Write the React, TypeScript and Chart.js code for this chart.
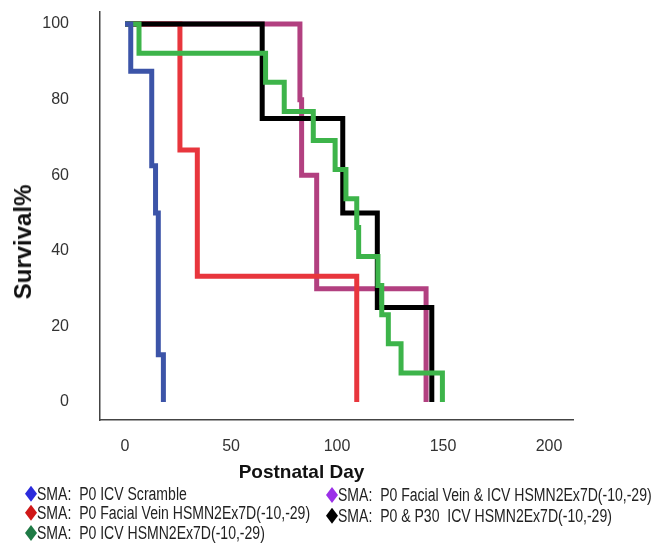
import React, { useEffect, useRef } from 'react';
import { Chart, registerables } from 'chart.js';

Chart.register(...registerables);

const xTickValues = [0, 50, 100, 150, 200];
const yTickValues = [0, 20, 40, 60, 80, 100];

const seriesLabels = [
  'SMA:  P0 ICV Scramble',
  'SMA:  P0 Facial Vein HSMN2Ex7D(-10,-29)',
  'SMA:  P0 ICV HSMN2Ex7D(-10,-29)',
  'SMA:  P0 Facial Vein & ICV HSMN2Ex7D(-10,-29)',
  'SMA:  P0 & P30  ICV HSMN2Ex7D(-10,-29)',
];

const scrambleDays = [0, 2.7, 12.6, 14.4, 15.7, 18.1];
const scrambleSurvival = [100, 87.5, 62.5, 50, 12.5, 0];

const facialDays = [0, 25.9, 34.1, 109.3];
const facialSurvival = [100, 66.7, 33.3, 0];

const icvDays = [0, 6.6, 66.3, 75.1, 88.8, 99.1, 104.2, 109.3, 110.2, 119.3, 121.1, 124.2, 130.2, 149.7];
const icvSurvival = [100, 92.3, 84.6, 76.9, 69.2, 61.5, 53.8, 46.2, 38.5, 30.8, 23.1, 15.4, 7.7, 0];

const facialIcvDays = [0, 82.5, 83.3, 90.4, 142];
const facialIcvSurvival = [100, 80, 60, 30, 0];

const p0p30Days = [0, 64.7, 102.7, 119, 144.7];
const p0p30Survival = [100, 75, 50, 25, 0];

const lineColors = ['#3c54a8', '#e8363d', '#3db44a', '#b24080', '#000000'];
const markerColors = ['#2b2bdc', '#d01818', '#1f7a45', '#9b30e8', '#000000'];
const drawOrder = [0, 3, 1, 4, 2];

const FONT = '"Liberation Sans", Arial, Helvetica, sans-serif';

export default function App() {
  const canvasRef = useRef<HTMLCanvasElement | null>(null);

  useEffect(() => {
    const canvas = canvasRef.current;
    if (!canvas) return;
    const days = [scrambleDays, facialDays, icvDays, facialIcvDays, p0p30Days];
    const surv = [scrambleSurvival, facialSurvival, icvSurvival, facialIcvSurvival, p0p30Survival];
    const chart = new Chart(canvas, {
      type: 'line',
      data: {
        datasets: days.map((d, i) => ({
          label: seriesLabels[i],
          data: d.map((x, j) => ({ x, y: surv[i][j] })),
          borderColor: lineColors[i],
          backgroundColor: lineColors[i],
          borderWidth: 5,
          stepped: 'before' as const,
          pointRadius: 0,
          fill: false,
          order: drawOrder[i],
          borderCapStyle: 'butt' as const,
          borderJoinStyle: 'miter' as const,
        })),
      },
      options: {
        animation: false,
        responsive: false,
        maintainAspectRatio: false,
        layout: { padding: { top: 12, right: 89, bottom: 0, left: 0 } },
        plugins: {
          legend: { display: false },
          tooltip: { enabled: false },
        },
        scales: {
          x: {
            type: 'linear',
            min: -11.8,
            max: 211.3,
            afterBuildTicks: (s: any) => {
              s.ticks = xTickValues.map((v) => ({ value: v }));
            },
            afterFit: (s: any) => {
              s.height = 126;
              s.paddingLeft = 0;
              s.paddingRight = 0;
            },
            grid: { display: false, drawTicks: false },
            border: { display: true, color: '#444', width: 1.5 },
            ticks: {
              padding: 17,
              color: '#333',
              maxRotation: 0,
              autoSkip: false,
              font: { family: FONT, size: 16 },
              callback: (v: any) => String(v),
            },
          },
          y: {
            type: 'linear',
            min: -4.76,
            max: 103.2,
            afterBuildTicks: (s: any) => {
              s.ticks = yTickValues.map((v) => ({ value: v }));
            },
            afterFit: (s: any) => {
              s.width = 100;
              s.paddingTop = 0;
              s.paddingBottom = 0;
            },
            grid: { display: false, drawTicks: false },
            border: { display: true, color: '#444', width: 1.5 },
            ticks: {
              padding: 31,
              color: '#333',
              autoSkip: false,
              font: { family: FONT, size: 16 },
              callback: (v: any) => String(v),
            },
          },
        },
      },
    });
    return () => chart.destroy();
  }, []);

  const legendRows = [
    { i: 0, x: 25, y: 493.7 },
    { i: 1, x: 25, y: 512.7 },
    { i: 2, x: 25, y: 533 },
    { i: 3, x: 326, y: 495 },
    { i: 4, x: 326, y: 515.8 },
  ];

  return (
    <div style={{ position: 'absolute', left: 0, top: 0, width: 662, height: 546, background: '#fff', overflow: 'hidden' }}>
      <canvas ref={canvasRef} width={662} height={546} style={{ position: 'absolute', left: 0, top: 0, width: 662, height: 546 }} />
      <div
        style={{
          position: 'absolute',
          left: 23,
          top: 242,
          transform: 'translate(-50%, -50%) rotate(-90deg)',
          fontFamily: FONT,
          fontWeight: 'bold',
          fontSize: 24,
          lineHeight: 1,
          whiteSpace: 'nowrap',
          color: '#111',
        }}
      >
        Survival%
      </div>
      <div
        style={{
          position: 'absolute',
          left: 301.5,
          top: 471,
          transform: 'translate(-50%, -50%)',
          fontFamily: FONT,
          fontWeight: 'bold',
          fontSize: 19,
          lineHeight: 1,
          whiteSpace: 'nowrap',
          color: '#111',
        }}
      >
        Postnatal Day
      </div>
      {legendRows.map((r) => (
        <div key={r.i} style={{ position: 'absolute', left: r.x, top: r.y - 10, height: 20, display: 'flex', alignItems: 'center' }}>
          <span
            style={{
              display: 'inline-block',
              width: 12,
              height: 16,
              background: markerColors[r.i],
              clipPath: 'polygon(50% 0, 100% 50%, 50% 100%, 0 50%)',
            }}
          />
          <span
            style={{
              display: 'inline-block',
              fontFamily: FONT,
              fontSize: 18,
              lineHeight: '20px',
              whiteSpace: 'pre',
              color: '#222',
              transform: 'scaleX(0.78)',
              transformOrigin: 'left center',
            }}
          >
            {seriesLabels[r.i]}
          </span>
        </div>
      ))}
    </div>
  );
}
